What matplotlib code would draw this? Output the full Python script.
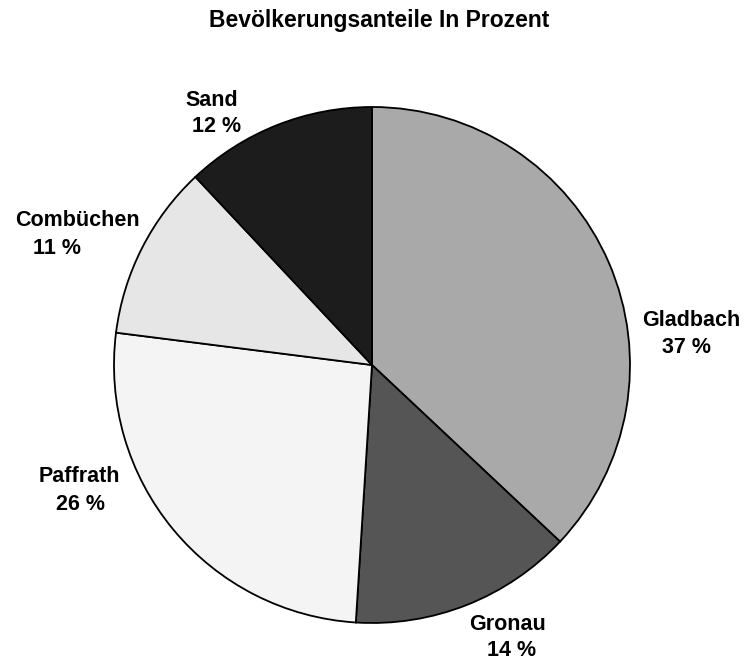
import matplotlib
matplotlib.use("Agg")
import matplotlib.pyplot as plt

categories = ["Gladbach", "Gronau", "Paffrath", "Combüchen", "Sand"]
shares = [37, 14, 26, 11, 12]
colors = ["#a9a9a9", "#555555", "#f4f4f4", "#e6e6e6", "#1c1c1c"]
title = "Bevölkerungsanteile In Prozent"

plt.rcParams['font.family'] = ['Liberation Sans', 'DejaVu Sans']

W, H = 747, 660
fig = plt.figure(figsize=(W / 100, H / 100), dpi=100)
cx, cy, r = 372, 365, 258
ax = fig.add_axes([(cx - r) / W, (H - cy - r) / H, 2 * r / W, 2 * r / H])
ax.pie(shares, colors=colors, startangle=90, counterclock=False, radius=1,
       wedgeprops=dict(edgecolor="black", linewidth=1.3))
ax.set_xlim(-1, 1)
ax.set_ylim(-1, 1)
ax.set_aspect("equal")
ax.axis("off")

# label line positions (pixel centres: name line, value line)
label_pos = {
    "Gladbach": ((691, 321), (686, 348)),
    "Gronau": ((508, 625), (512, 651)),
    "Paffrath": ((79, 477), (81, 504)),
    "Combüchen": ((77, 221), (57, 248)),
    "Sand": ((212, 100), (217, 127)),
}
for name, val in zip(categories, shares):
    (nx, ny), (vx, vy) = label_pos[name]
    fig.text(nx / W, 1 - ny / H, name, ha="center", va="center",
             fontsize=15.5, fontweight="bold")
    fig.text(vx / W, 1 - vy / H, f"{val} %", ha="center", va="center",
             fontsize=15.5, fontweight="bold")

fig.text(379 / W, 1 - 21 / H, title, ha="center", va="center",
         fontsize=16.5, fontweight="bold")

fig.savefig("out.png", dpi=100, facecolor="white")
